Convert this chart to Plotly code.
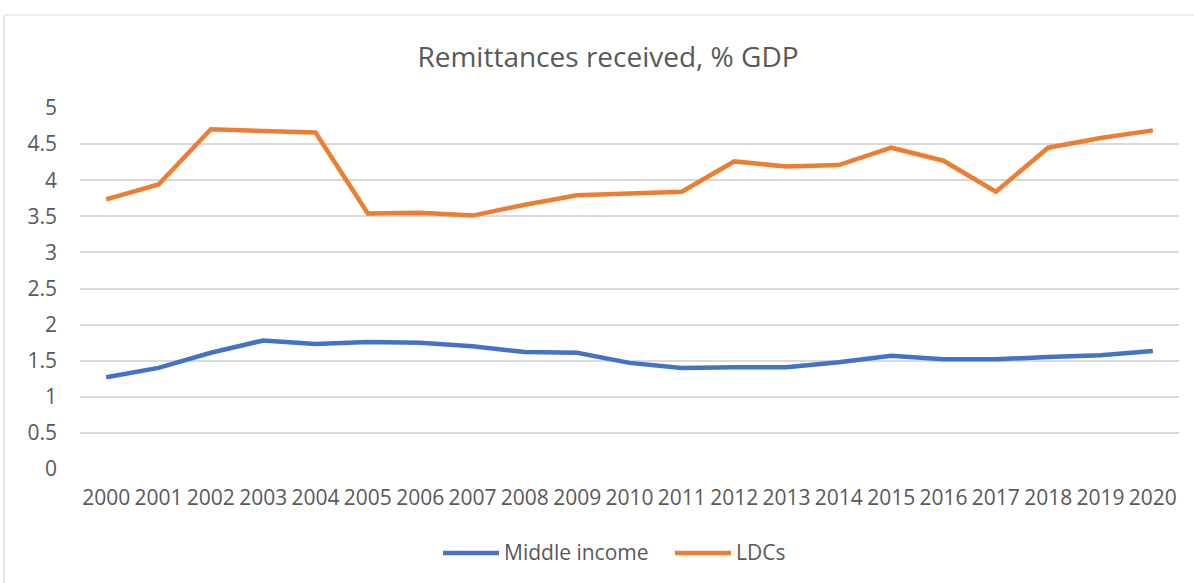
import plotly.graph_objects as go

years = [str(y) for y in range(2000, 2021)]
middle_income = [1.27, 1.40, 1.61, 1.78, 1.73, 1.76, 1.75, 1.70, 1.62, 1.61,
                 1.47, 1.40, 1.41, 1.41, 1.48, 1.57, 1.52, 1.52, 1.55, 1.575, 1.635]
ldcs = [3.735, 3.94, 4.705, 4.69, 4.66, 3.54, 3.55, 3.51, 3.66, 3.79,
        3.82, 3.84, 4.26, 4.19, 4.21, 4.45, 4.27, 3.84, 4.45, 4.585, 4.69]
y_ticks = [0, 0.5, 1, 1.5, 2, 2.5, 3, 3.5, 4, 4.5, 5]
y_tick_text = ["0", "0.5", "1", "1.5", "2", "2.5", "3", "3.5", "4", "4.5", "5"]

W, H = 1194, 583
L, R, T, B = 80, 15, 108, 114
PW, PH = W - L - R, H - T - B

BLUE = "#4472C4"
ORANGE = "#ED7D31"
TEXT = "#595959"
GRID = "#D9D9D9"
FONT = "Open Sans"


def px_x(x):
    return (x - L) / PW


def px_y(y):
    return (H - B - y) / PH


fig = go.Figure()
fig.add_trace(go.Scatter(x=years, y=middle_income, mode="lines", name="Middle income",
                         line=dict(color=BLUE, width=4.5), showlegend=False))
fig.add_trace(go.Scatter(x=years, y=ldcs, mode="lines", name="LDCs",
                         line=dict(color=ORANGE, width=4.5), showlegend=False))

shapes = [
    # chart-area border
    dict(type="line", xref="paper", yref="paper", x0=px_x(4), x1=px_x(1300),
         y0=px_y(15), y1=px_y(15), line=dict(color=GRID, width=1.2)),
    dict(type="line", xref="paper", yref="paper", x0=px_x(4), x1=px_x(4),
         y0=px_y(15), y1=px_y(700), line=dict(color=GRID, width=1.2)),
]
annotations = []

# legend below the axis
legend_items = [("Middle income", BLUE, 443), ("LDCs", ORANGE, 675)]
for label, color, x0 in legend_items:
    shapes.append(dict(type="line", xref="paper", yref="paper",
                       x0=px_x(x0), x1=px_x(x0 + 56), y0=px_y(553), y1=px_y(553),
                       line=dict(color=color, width=4.5)))
    annotations.append(dict(text=label, xref="paper", yref="paper",
                            x=px_x(x0 + 59), y=px_y(552), xanchor="left", yanchor="middle",
                            showarrow=False, font=dict(family=FONT, size=21, color=TEXT)))

fig.update_layout(
    width=W, height=H,
    margin=dict(l=L, r=R, t=T, b=B, autoexpand=False),
    paper_bgcolor="white", plot_bgcolor="white",
    title=dict(text="Remittances received, % GDP", xref="container", yref="container",
               x=608 / W, y=1 - 57 / H, xanchor="center", yanchor="middle",
               font=dict(family=FONT, size=28, color=TEXT)),
    font=dict(family=FONT, color=TEXT),
    shapes=shapes,
    annotations=annotations,
    xaxis=dict(type="category", showgrid=False, zeroline=False, showline=False,
               ticks="", tickangle=0, tickfont=dict(family=FONT, size=21, color=TEXT),
               range=[-0.5, len(years) - 0.5], ticklabelstandoff=14, automargin=False),
    yaxis=dict(range=[0, 5], tickvals=y_ticks, ticktext=y_tick_text,
               showgrid=True, gridcolor=GRID, gridwidth=1.5, zeroline=False,
               showline=False, ticks="", tickfont=dict(family=FONT, size=21, color=TEXT),
               ticklabelstandoff=22, automargin=False),
)

fig.write_html("out.html")
